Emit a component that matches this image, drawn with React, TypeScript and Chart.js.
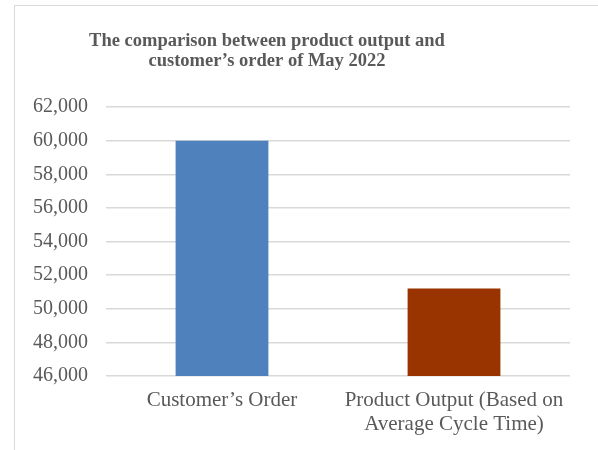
import React, { useEffect, useRef } from "react";
import { Chart, registerables } from "chart.js";

Chart.register(...registerables);

const categories: (string | string[])[] = [
  "Customer\u2019s Order",
  ["Product Output (Based on", "Average Cycle Time)"],
];
const values: number[] = [60000, 51200];
const barColors: string[] = ["#4F81BD", "#993300"];
const titleLines: string[] = [
  "The comparison between product output and",
  "customer\u2019s order of May 2022",
];
const yMin = 46000;
const yMax = 62000;
const yStep = 2000;

const FONT = "'Liberation Serif', 'Times New Roman', serif";
const TEXT = "#595959";

const titlePlugin = {
  id: "customTitle",
  afterDraw(chart: any) {
    const ctx = chart.ctx;
    ctx.save();
    ctx.font = `bold 18.5px ${FONT}`;
    ctx.fillStyle = TEXT;
    ctx.textAlign = "center";
    ctx.textBaseline = "alphabetic";
    titleLines.forEach((line, i) => {
      ctx.fillText(line, 267, 46 + i * 19.5);
    });
    ctx.restore();
  },
};

export default function App() {
  const ref = useRef<HTMLCanvasElement | null>(null);
  useEffect(() => {
    if (!ref.current) return;
    const chart = new Chart(ref.current, {
      type: "bar",
      data: {
        labels: categories,
        datasets: [
          {
            data: values,
            backgroundColor: barColors,
            borderWidth: 0,
            categoryPercentage: 1,
            barPercentage: 0.4,
          },
        ],
      },
      options: {
        animation: false,
        responsive: true,
        maintainAspectRatio: false,
        layout: { padding: { left: 18, right: 28, top: 107, bottom: 0 } },
        plugins: {
          legend: { display: false },
          title: { display: false },
          tooltip: { enabled: false },
        },
        scales: {
          x: {
            grid: { display: false, drawTicks: false },
            border: { display: false },
            ticks: {
              color: TEXT,
              font: { family: FONT, size: 21, lineHeight: 1.15 },
              padding: 12,
              maxRotation: 0,
              autoSkip: false,
            },
            afterFit(scale: any) {
              scale.height = 74;
            },
          },
          y: {
            min: yMin,
            max: yMax,
            grid: { color: "#d9d9d9", lineWidth: 1.5, drawTicks: false },
            border: { display: false },
            ticks: {
              stepSize: yStep,
              color: TEXT,
              padding: 18,
              font: { family: FONT, size: 20 },
              callback: (v: any) => Number(v).toLocaleString("en-US"),
            },
            afterFit(scale: any) {
              scale.width = 88;
            },
          },
        },
      },
      plugins: [titlePlugin],
    });
    return () => chart.destroy();
  }, []);

  return (
    <div
      style={{
        position: "fixed",
        left: 0,
        top: 0,
        width: 598,
        height: 450,
        overflow: "hidden",
        background: "#fff",
      }}
    >
      <div
        style={{
          position: "absolute",
          left: 14,
          top: 5,
          width: 700,
          height: 700,
          border: "1px solid #d9d9d9",
          boxSizing: "border-box",
        }}
      />
      <div style={{ position: "absolute", left: 0, top: 0, width: 598, height: 450 }}>
        <canvas ref={ref} />
      </div>
    </div>
  );
}
